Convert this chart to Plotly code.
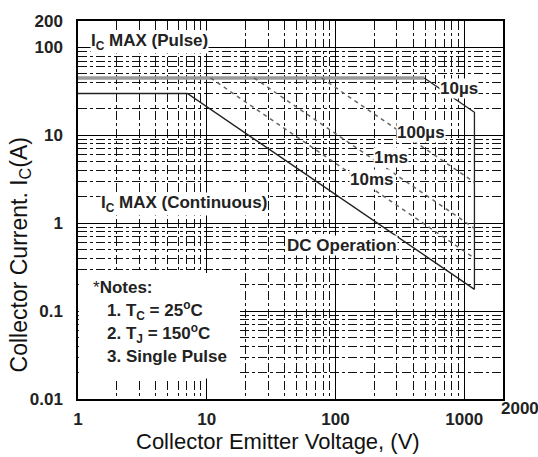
import numpy as np
import plotly.graph_objects as go

# ---- data ----
ic_pulse_v = [1, 489]
ic_pulse_i = [45, 45]
us10_v = [489, 1200, 1200]
us10_i = [45, 18.3, 0.177]
us100_v = [77.8, 1200]
us100_i = [45, 2.92]
ms1_v = [23.3, 1200]
ms1_i = [45, 0.875]
ms10_v = [10.7, 1200]
ms10_i = [45, 0.40]
dc_v = [1, 7.07, 1200]
dc_i = [30, 30, 0.177]

x_tickvals = [1, 10, 100, 1000]
x_ticktext = ["1", "10", "100", "1000"]
y_tickvals = [0.01, 0.1, 1, 10, 100, 200]
y_ticktext = ["0.01", "0.1", "1", "10", "100", "200"]

FONT = "Liberation Sans, Arial, sans-serif"

fig = go.Figure()
fig.add_trace(go.Scatter(x=ic_pulse_v, y=ic_pulse_i, mode="lines",
                         line=dict(color="#9a9a9a", width=3.5), showlegend=False))
fig.add_trace(go.Scatter(x=us10_v, y=us10_i, mode="lines",
                         line=dict(color="#222", width=1.3), showlegend=False))
for vv, ii in [(us100_v, us100_i), (ms1_v, ms1_i), (ms10_v, ms10_i)]:
    fig.add_trace(go.Scatter(x=vv, y=ii, mode="lines",
                             line=dict(color="#666", width=1.5, dash="4px,4px"),
                             showlegend=False))
fig.add_trace(go.Scatter(x=dc_v, y=dc_i, mode="lines",
                         line=dict(color="#222", width=1.4), showlegend=False))

L, R, T, B = 78, 35, 12, 58
W, H = 538, 457
pw, ph = W - L - R, H - T - B

def px(xp):
    return (xp - L) / pw

def py(yp):
    return (H - B - yp) / ph

axis_common = dict(
    type="log", showline=True, linecolor="black", linewidth=1.5, mirror=True,
    showgrid=True, gridcolor="black", gridwidth=1.2, ticks="",
    tickfont=dict(family=FONT, size=17, color="#222", weight="bold"),
    zeroline=False,
    minor=dict(dtick="D1", showgrid=True, gridcolor="#111", gridwidth=0.9,
               griddash="dashdot", ticks=""),
)

fig.update_layout(
    width=W, height=H, margin=dict(l=L, r=R, t=T, b=B),
    paper_bgcolor="white", plot_bgcolor="white",
    xaxis=dict(axis_common, range=[0, np.log10(2000)], tickvals=x_tickvals,
               ticktext=x_ticktext, ticklabelstandoff=4),
    yaxis=dict(axis_common, range=[-2, np.log10(200) + 0.0005], tickvals=y_tickvals,
               ticktext=y_ticktext, ticklabelstandoff=10),
)

# notes box (white background over grid)
fig.add_shape(type="rect", xref="paper", yref="paper",
              x0=0.002, x1=px(240), y0=py(378), y1=py(270),
              fillcolor="white", line=dict(width=0), layer="above")

def lab(text, x, y, size=17, xanchor="center", bg="white", bold=True):
    fig.add_annotation(text=("<b>%s</b>" % text) if bold else text,
                       xref="paper", yref="paper", x=px(x), y=py(y),
                       xanchor=xanchor, yanchor="middle", showarrow=False,
                       font=dict(family=FONT, size=size, color="#222"),
                       bgcolor=bg, borderpad=0)

lab("I<sub>C</sub> MAX (Pulse)", 149, 33)
lab("I<sub>C</sub> MAX (Continuous)", 184, 199)
lab("10\u00b5s", 459, 81)
lab("100\u00b5s", 421, 126)
lab("1ms", 391, 152)
lab("10ms", 371, 174)
lab("DC Operation", 342, 242)
fig.add_annotation(text="*<b>Notes:</b>", xref="paper", yref="paper",
                   x=px(91), y=py(285), xanchor="left", yanchor="middle",
                   showarrow=False, font=dict(family=FONT, size=17, color="#222"))
lab("1. T<sub>C</sub> = 25<sup>o</sup>C", 106, 308, xanchor="left", bg=None)
lab("2. T<sub>J</sub> = 150<sup>o</sup>C", 106, 332, xanchor="left", bg=None)
lab("3. Single Pulse", 106, 355, xanchor="left", bg=None)

# raised "2000" label at right end of x axis
lab("2000", 520, 409, bg=None)

# axis titles
fig.add_annotation(text="Collector Emitter Voltage, (V)", xref="paper", yref="paper",
                   x=px(278), y=py(443), xanchor="center", yanchor="middle",
                   showarrow=False, font=dict(family=FONT, size=22, color="#111"))
fig.add_annotation(text="Collector Current. I<sub>C</sub>(A)", xref="paper", yref="paper",
                   x=px(20), y=py(252), xanchor="center", yanchor="middle",
                   textangle=-90, showarrow=False,
                   font=dict(family=FONT, size=23, color="#111"))

fig.write_html("out.html")
